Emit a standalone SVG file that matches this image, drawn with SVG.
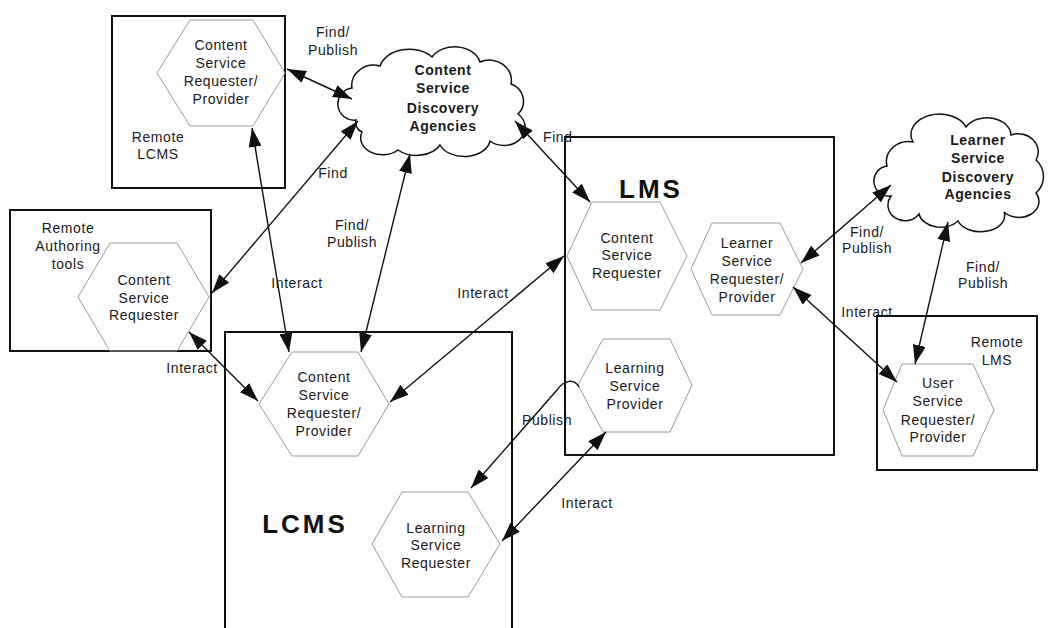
<svg xmlns="http://www.w3.org/2000/svg" width="1051" height="628" viewBox="0 0 1051 628">
<style>
.bg{fill:#fff}
.box{fill:none;stroke:#111;stroke-width:2}
.hex{fill:none;stroke:#9a9a9a;stroke-width:1}
.cloud{fill:#fff;stroke:#111;stroke-width:1.5}
.t{font-family:"Liberation Sans",Arial,sans-serif;font-size:14px;fill:#1a1a1a;text-anchor:middle;letter-spacing:0.6px}
.ct{font-family:"Liberation Sans",Arial,sans-serif;font-size:14px;font-weight:bold;fill:#1a1a1a;text-anchor:middle;letter-spacing:0.6px}
.big{font-family:"Liberation Sans",Arial,sans-serif;font-size:26px;font-weight:bold;fill:#111;text-anchor:middle;letter-spacing:3px}
.c{fill:none;stroke:#111;stroke-width:1.4;marker-end:url(#ah);marker-start:url(#ah)}
.c1{fill:none;stroke:#111;stroke-width:1.4;marker-end:url(#ah)}
</style>
<defs>
<marker id="ah" markerUnits="userSpaceOnUse" markerWidth="20" markerHeight="13" refX="19" refY="6.5" orient="auto-start-reverse">
<path d="M0,0 L19,6.5 L0,13 Z" fill="#111"/>
</marker>
</defs>
<rect class="bg" x="0" y="0" width="1051" height="628"/>

<g id="remote-lcms">
<rect class="box" x="112" y="16" width="173" height="172"/>
<text class="t" x="158" y="142">Remote</text>
<text class="t" x="158" y="159">LCMS</text>
</g>
<g id="remote-lcms-csrp">
<polygon class="hex" points="157,73 190,20 253,20 285,73 253,126 190,126"/>
<text class="t" x="221" y="50">Content</text>
<text class="t" x="221" y="68">Service</text>
<text class="t" x="221" y="86">Requester/</text>
<text class="t" x="221" y="104">Provider</text>
</g>

<g id="remote-authoring">
<rect class="box" x="10" y="210" width="201" height="141"/>
<text class="t" x="68" y="233">Remote</text>
<text class="t" x="68" y="251">Authoring</text>
<text class="t" x="68" y="269">tools</text>
</g>
<g id="authoring-csr">
<polygon class="hex" points="78,297 110,243 177,243 209,297 177,351 110,351"/>
<text class="t" x="144" y="285">Content</text>
<text class="t" x="144" y="303">Service</text>
<text class="t" x="144" y="320">Requester</text>
</g>

<g id="lcms">
<rect class="box" x="225" y="332" width="287" height="310"/>
<text class="big" x="305" y="533">LCMS</text>
</g>
<g id="lcms-csrp">
<polygon class="hex" points="259,404 292,352 358,352 389,404 358,456 292,456"/>
<text class="t" x="324" y="382">Content</text>
<text class="t" x="324" y="400">Service</text>
<text class="t" x="324" y="418">Requester/</text>
<text class="t" x="324" y="436">Provider</text>
</g>
<g id="lcms-lsr">
<polygon class="hex" points="372,544 402,492 468,492 500,544 468,597 402,597"/>
<text class="t" x="436" y="533">Learning</text>
<text class="t" x="436" y="550">Service</text>
<text class="t" x="436" y="568">Requester</text>
</g>

<g id="lms">
<rect class="box" x="565" y="137" width="269" height="318"/>
<text class="big" x="651" y="198">LMS</text>
</g>
<g id="lms-csr">
<polygon class="hex" points="567,256 592,202 660,202 687,256 660,310 592,310"/>
<text class="t" x="627" y="243">Content</text>
<text class="t" x="627" y="260">Service</text>
<text class="t" x="627" y="278">Requester</text>
</g>
<g id="lms-lsrp">
<polygon class="hex" points="691,269 712,223 780,223 803,269 780,315 712,315"/>
<text class="t" x="747" y="248">Learner</text>
<text class="t" x="747" y="266">Service</text>
<text class="t" x="747" y="284">Requester/</text>
<text class="t" x="747" y="302">Provider</text>
</g>
<g id="lms-lsp">
<polygon class="hex" points="578,385 603,339 670,339 692,385 670,432 603,432"/>
<text class="t" x="635" y="373">Learning</text>
<text class="t" x="635" y="391">Service</text>
<text class="t" x="635" y="409">Provider</text>
</g>

<g id="remote-lms">
<rect class="box" x="877" y="316" width="160" height="154"/>
<text class="t" x="997" y="347">Remote</text>
<text class="t" x="997" y="365">LMS</text>
</g>
<g id="remote-lms-usrp">
<polygon class="hex" points="883,410 902,364 973,364 994,410 973,456 902,456"/>
<text class="t" x="938" y="388">User</text>
<text class="t" x="938" y="406">Service</text>
<text class="t" x="938" y="425">Requester/</text>
<text class="t" x="938" y="442">Provider</text>
</g>

<g id="content-cloud">
<path class="cloud" d="M356,120 A16,16 0 0 1 352,88 A22,20 0 0 1 380,66 A30,22 0 0 1 432,57 A26,20 0 0 1 480,62 A22,20 0 0 1 511,84 A18,18 0 0 1 518,114 A20,17 0 0 1 490,141 A26,18 0 0 1 440,145 A26,18 0 0 1 398,150 A22,17 0 0 1 362,132 A10,10 0 0 1 356,120 Z"/>
<text class="ct" x="443" y="75">Content</text>
<text class="ct" x="443" y="93">Service</text>
<text class="ct" x="443" y="113">Discovery</text>
<text class="ct" x="443" y="131">Agencies</text>
</g>

<g id="learner-cloud">
<path class="cloud" d="M891,196 A15,15 0 0 1 887,166 A22,20 0 0 1 913,142 A28,20 0 0 1 966,127 A24,18 0 0 1 1011,135 A20,18 0 0 1 1036,160 A22,22 0 0 1 1036,193 A20,16 0 0 1 1004,212 A24,16 0 0 1 958,221 A22,16 0 0 1 919,214 A14,13 0 0 1 891,196 Z"/>
<text class="ct" x="978" y="145">Learner</text>
<text class="ct" x="978" y="163">Service</text>
<text class="ct" x="978" y="182">Discovery</text>
<text class="ct" x="978" y="199">Agencies</text>
</g>

<g id="connectors">
<line class="c" x1="287" y1="69" x2="352" y2="99"/>
<line class="c" x1="358" y1="121" x2="212" y2="293"/>
<line class="c" x1="252" y1="128" x2="289" y2="352"/>
<line class="c" x1="410" y1="154" x2="361" y2="352"/>
<line class="c" x1="189" y1="332" x2="258" y2="401"/>
<line class="c" x1="515" y1="121" x2="590" y2="202"/>
<line class="c" x1="564" y1="256" x2="390" y2="402"/>
<path class="c1" d="M579,387 C574,378 564,380 557,390 L471,488"/>
<line class="c" x1="502" y1="541" x2="606" y2="432"/>
<line class="c" x1="801" y1="263" x2="891" y2="185"/>
<line class="c" x1="793" y1="287" x2="897" y2="382"/>
<line class="c" x1="948" y1="222" x2="915" y2="364"/>
<text class="t" x="333" y="37">Find/</text>
<text class="t" x="333" y="55">Publish</text>
<text class="t" x="333" y="178">Find</text>
<text class="t" x="352" y="230">Find/</text>
<text class="t" x="352" y="247">Publish</text>
<text class="t" x="297" y="288">Interact</text>
<text class="t" x="192" y="373">Interact</text>
<text class="t" x="483" y="298">Interact</text>
<text class="t" x="543" y="142" style="text-anchor:start">Find</text>
<text class="t" x="547" y="425">Publish</text>
<text class="t" x="587" y="508">Interact</text>
<text class="t" x="867" y="237">Find/</text>
<text class="t" x="867" y="253">Publish</text>
<text class="t" x="867" y="317">Interact</text>
<text class="t" x="983" y="272">Find/</text>
<text class="t" x="983" y="288">Publish</text>
</g>
</svg>
